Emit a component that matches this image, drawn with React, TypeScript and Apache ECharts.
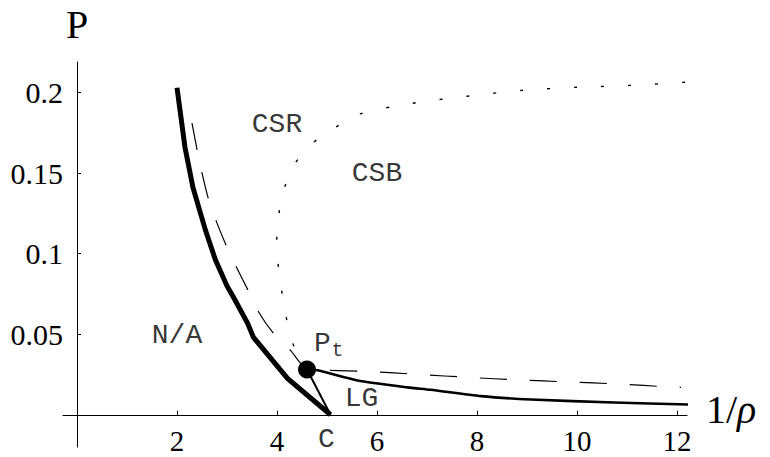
import React, { useEffect, useRef } from "react";
import * as echarts from "echarts";

// Thick boundary N/A | CSR (ends at point C)
const naBoundary: [number, number][] = [
  [2.0, 0.203], [2.16, 0.166], [2.32, 0.141], [2.57, 0.1145], [2.77, 0.096],
  [3.0, 0.08], [3.13, 0.073], [3.41, 0.057], [3.53, 0.048], [4.21, 0.0226], [5.07, 0],
];
// Solid line from Pt to the right (LG boundary)
const lgBoundary: [number, number][] = [
  [4.6, 0.0281], [4.81, 0.0276], [5.61, 0.0213], [6.61, 0.017], [7.07, 0.0155],
  [8.08, 0.0116], [9.08, 0.0095], [10.74, 0.0076], [12.22, 0.0064],
];
// Thin line Pt -> C
const ptToC: [number, number][] = [[4.6, 0.0281], [5.07, 0]];
// Dashed curve
const dashedCurve: [number, number][] = [
  [2.3, 0.181], [2.45, 0.157], [2.62, 0.135], [2.8, 0.119], [3.0, 0.104], [3.2, 0.091],
  [3.41, 0.078], [3.63, 0.064], [3.93, 0.0505], [4.27, 0.04], [4.6, 0.0281],
  [4.96, 0.0276], [5.84, 0.0269], [6.84, 0.025], [7.85, 0.0232], [8.83, 0.0216],
  [9.83, 0.0204], [10.83, 0.0191], [11.83, 0.0173], [12.08, 0.017],
];
// Dotted curve CSR | CSB
const dottedCurve: [number, number][] = [
  [4.6, 0.0281], [4.37, 0.04], [4.23, 0.054], [4.13, 0.07], [4.05, 0.087], [3.99, 0.104],
  [4.03, 0.1226], [4.13, 0.139], [4.35, 0.1555], [4.71, 0.1685], [5.15, 0.178],
  [5.63, 0.1865], [6.71, 0.1934], [7.8, 0.1977], [8.9, 0.2014], [10.0, 0.2033],
  [11.08, 0.2045], [12.18, 0.2065],
];
const triplePoint: [number, number][] = [[4.6, 0.0281]];

const xTicks = [2, 4, 6, 8, 10, 12];
const yTicks = [0.05, 0.1, 0.15, 0.2];

const regionLabels = [
  { name: "N/A", value: [2.0, 0.0495] },
  { name: "CSR", value: [4.0, 0.18] },
  { name: "CSB", value: [6.0, 0.15] },
  { name: "LG", value: [5.69, 0.0098] },
  { name: "C", value: [4.99, -0.0156] },
  { name: "P", value: [4.91, 0.0443] },
];
const subscriptLabels = [{ name: "t", value: [5.21, 0.0402] }];

export default function App() {
  const ref = useRef<HTMLDivElement>(null);
  useEffect(() => {
    if (!ref.current) return;
    const chart = echarts.init(ref.current, undefined, { renderer: "svg" });
    const serif = "Liberation Serif";
    const mono = "Liberation Mono";
    const line = (data: [number, number][], width: number, type: any, smooth: any = false) => ({
      type: "line",
      data,
      showSymbol: false,
      symbol: "none",
      smooth,
      silent: true,
      lineStyle: { color: "#000", width, type, cap: "butt", join: "miter" },
      z: 3,
    });
    chart.setOption({
      animation: false,
      backgroundColor: "#fff",
      textStyle: { fontFamily: serif, color: "#000" },
      grid: { left: 63, right: 83, top: 62, bottom: 10, containLabel: false, outerBoundsMode: "none" },
      xAxis: {
        type: "value",
        min: -0.28,
        max: 12.2,
        splitLine: { show: false },
        axisLine: { show: true, onZero: true, lineStyle: { color: "#000", width: 1 } },
        axisTick: { show: true, inside: true, length: 4, customValues: xTicks, lineStyle: { color: "#000", width: 1 } },
        axisLabel: { customValues: xTicks, fontSize: 29, fontFamily: serif, fontWeight: "normal", color: "#000", margin: -21 },
        name: "{a|1/}{b|ρ}",
        nameLocation: "end",
        nameGap: 19,
        nameTextStyle: {
          padding: [0, 0, 10, 0],
          rich: {
            a: { fontFamily: serif, fontSize: 40, color: "#000" },
            b: { fontFamily: serif, fontSize: 40, fontStyle: "italic", color: "#000" },
          },
        },
      },
      yAxis: {
        type: "value",
        min: -0.02,
        max: 0.219,
        splitLine: { show: false },
        axisLine: { show: true, onZero: true, lineStyle: { color: "#000", width: 1 } },
        axisTick: { show: true, inside: true, length: 4, customValues: yTicks, lineStyle: { color: "#000", width: 1 } },
        axisLabel: { customValues: yTicks, fontSize: 30, fontFamily: serif, fontWeight: "normal", color: "#000", margin: 0 },
        name: "P",
        nameLocation: "end",
        nameGap: 18,
        nameTextStyle: { fontFamily: serif, fontSize: 40, color: "#000" },
      },
      series: [
        line(dottedCurve, 1.4, [3, 24], 0.3),
        line(dashedCurve, 1.2, [27, 23], 0.2),
        line(naBoundary, 5, "solid"),
        line(lgBoundary, 2.6, "solid", 0.2),
        line(ptToC, 2, "solid"),
        {
          type: "scatter",
          data: triplePoint,
          symbolSize: 18,
          itemStyle: { color: "#000", opacity: 1 },
          silent: true,
          z: 5,
        },
        {
          type: "scatter",
          data: regionLabels,
          symbolSize: 1,
          itemStyle: { color: "transparent" },
          silent: true,
          label: {
            show: true,
            position: "inside",
            formatter: (p: any) => p.name,
            fontFamily: mono,
            fontSize: 28,
            color: "#000",
          },
          z: 6,
        },
        {
          type: "scatter",
          data: subscriptLabels,
          symbolSize: 1,
          itemStyle: { color: "transparent" },
          silent: true,
          label: {
            show: true,
            position: "inside",
            formatter: (p: any) => p.name,
            fontFamily: mono,
            fontSize: 20,
            color: "#000",
          },
          z: 6,
        },
      ],
    });
    return () => chart.dispose();
  }, []);
  return <div ref={ref} style={{ width: 770, height: 457, position: "absolute", left: 0, top: 0 }} />;
}
